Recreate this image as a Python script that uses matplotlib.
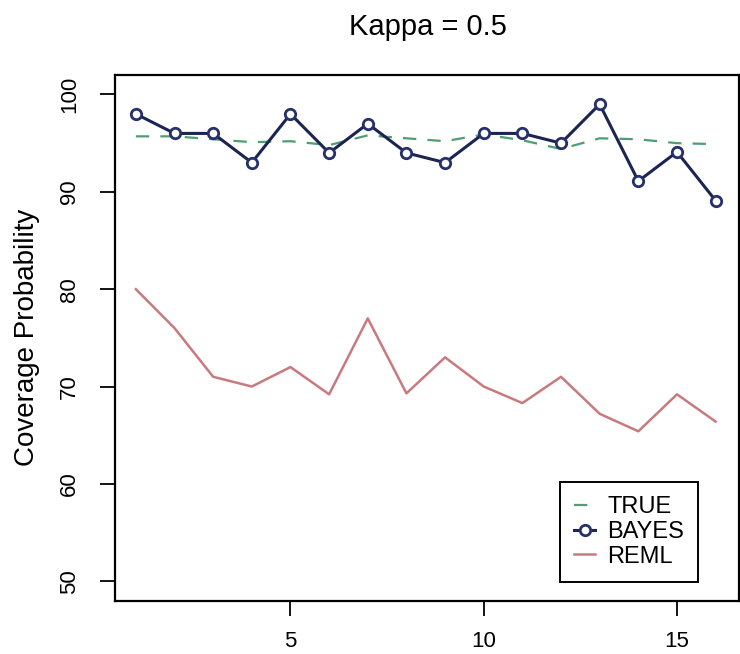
import numpy as np
import matplotlib as mpl
import matplotlib.pyplot as plt

mpl.rc('font', family=['Liberation Sans', 'DejaVu Sans'])

# dados
x = np.arange(1, 17)
true_cp = [95.7, 95.7, 95.4, 95.1, 95.2, 94.8, 95.8, 95.5, 95.2, 95.9, 95.3, 94.4, 95.5, 95.4, 95.0, 94.9]
bayes_cp = [98, 96, 96, 93, 98, 94, 97, 94, 93, 96, 96, 95, 99, 91.1, 94.1, 89.1]
reml_cp = [80, 76, 71, 70, 72, 69.2, 77, 69.3, 73, 70, 68.3, 71, 67.2, 65.4, 69.2, 66.4]
titulo = 'Kappa = 0.5'

fig = plt.figure(figsize=(7.4, 6.54), dpi=100)
ax = fig.add_axes([0.1554, 0.0815, 0.843, 0.8038])

ax.plot(x, true_cp, color='#4e9e72', linestyle=(0, (6, 5)), linewidth=1.6, label='TRUE')
ax.plot(x, bayes_cp, color='#1c2452', linewidth=2.2, marker='o', markersize=7.5,
        markerfacecolor='white', markeredgecolor='#26306a', markeredgewidth=2.0, label='BAYES')
ax.plot(x, reml_cp, color='#c87a7e', linewidth=1.8, label='REML')

ax.set_xlim(0.46, 16.6)
ax.set_ylim(48, 102)
ax.set_xticks([5, 10, 15])
ax.set_yticks([50, 60, 70, 80, 90, 100])
ax.tick_params(axis='both', direction='out', length=11, width=1.3, labelsize=16)
ax.tick_params(axis='x', pad=11)
ax.tick_params(axis='y', pad=14)
plt.setp(ax.get_yticklabels(), rotation=90, va='center')
for s in ax.spines.values():
    s.set_linewidth(1.6)

ax.set_ylabel('Coverage Probability', fontsize=20, labelpad=14)
fig.suptitle(titulo, fontsize=21, x=0.578, y=0.98)

leg = ax.legend(loc='lower right', bbox_to_anchor=(0.935, 0.036), fancybox=False,
                edgecolor='black', framealpha=1, fontsize=17, handlelength=0.9,
                handletextpad=0.5, borderpad=0.6, labelspacing=0.12, borderaxespad=0)
leg.get_frame().set_linewidth(1.4)

plt.savefig('out.png', dpi=100)
